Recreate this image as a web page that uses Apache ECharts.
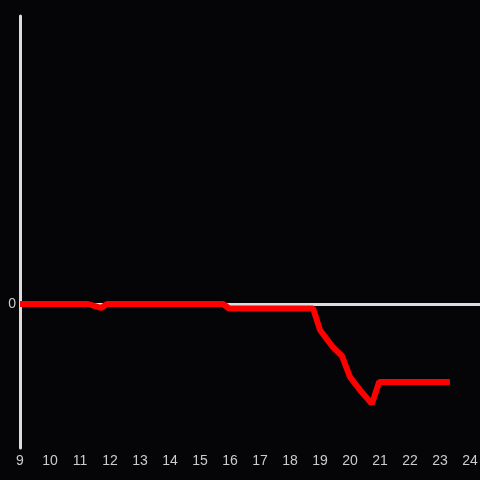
<!DOCTYPE html>
<html><head><meta charset="utf-8">
<script src="https://cdn.jsdelivr.net/npm/echarts@6/dist/echarts.min.js"></script>
<style>html,body{margin:0;padding:0;background:#050407;}#c{width:480px;height:480px;}</style>
</head><body><div id="c"></div>
<script>
const hours = [9.0, 11.27, 11.7, 11.9, 15.77, 15.97, 18.77, 19.0, 19.43, 19.73, 20.0, 20.33, 20.73, 20.97, 23.33];
const values = [0, 0, -0.083, 0, 0, -0.094, -0.094, -0.54, -0.9, -1.08, -1.52, -1.79, -2.08, -1.625, -1.625];
const xTicks = [9,10,11,12,13,14,15,16,17,18,19,20,21,22,23,24];
const yTicks = [0];

const chart = echarts.init(document.getElementById('c'), null, {renderer:'canvas'});
chart.setOption({
  backgroundColor: '#050407',
  animation: false,
  grid: {left: 20, right: 0, top: 16, bottom: 32, containLabel: false, outerBoundsMode: 'none'},
  xAxis: {
    type: 'value', min: 9, max: 24.333, interval: 1,
    axisLine: {show: false}, axisTick: {show: false}, splitLine: {show: false},
    axisLabel: {color: '#cccccc', fontSize: 14, margin: 6, fontFamily: 'Liberation Sans, Arial, sans-serif',
      formatter: v => xTicks.includes(Math.round(v*1000)/1000) ? String(v) : ''}
  },
  yAxis: {
    type: 'value', min: -3, max: 6, interval: 3,
    axisLine: {show: true, onZero: false, lineStyle: {color: '#dddddd', width: 3}},
    axisTick: {show: false}, splitLine: {show: false},
    axisLabel: {color: '#cccccc', fontSize: 14, margin: 4, fontFamily: 'Liberation Sans, Arial, sans-serif',
      formatter: v => yTicks.includes(v) ? String(v) : ''}
  },
  series: [{
    type: 'line',
    data: hours.map((h, i) => [h, values[i]]),
    showSymbol: false,
    lineStyle: {color: '#ff0000', width: 6},
    z: 3,
    markLine: {
      silent: true, symbol: ['none','none'], label: {show: false},
      lineStyle: {color: '#dddddd', width: 3, type: 'solid'},
      data: [{yAxis: 0}],
      z: 1
    }
  }]
});
</script></body></html>
